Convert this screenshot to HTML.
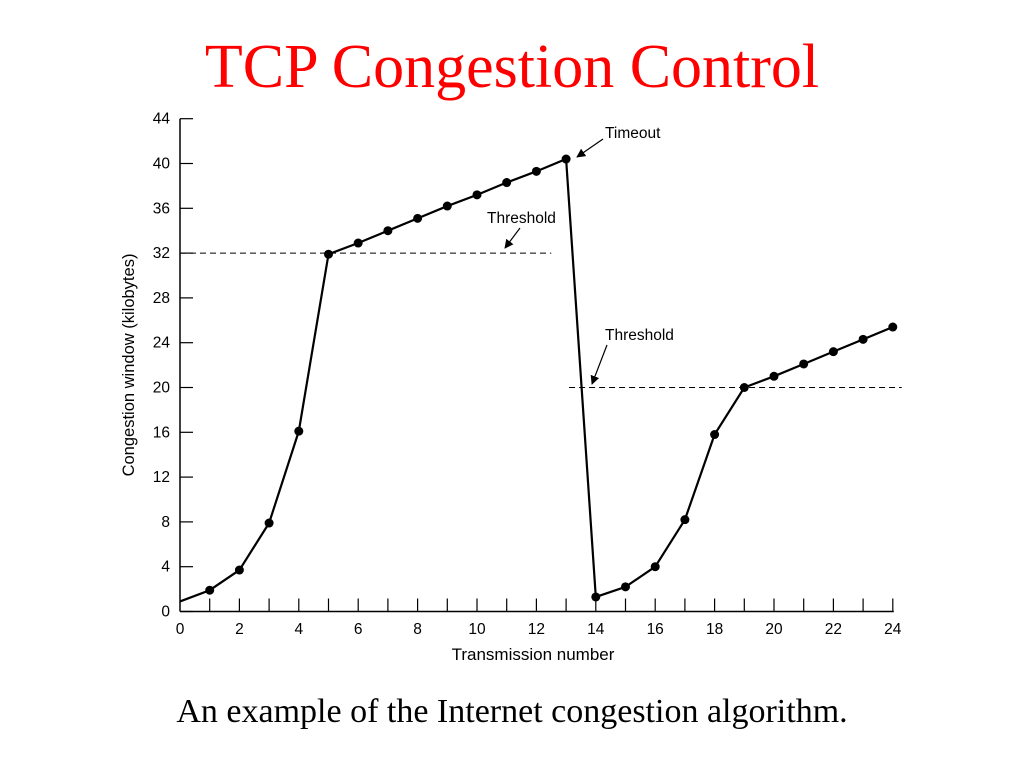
<!DOCTYPE html>
<html><head><meta charset="utf-8"><style>
body{margin:0;background:#fff;width:1024px;height:768px;overflow:hidden}
svg text{font-family:"Liberation Sans",sans-serif}
</style></head><body>
<svg width="1024" height="768">
<defs><marker id="ah" viewBox="0 0 10 10" refX="9" refY="5" markerWidth="9" markerHeight="9" orient="auto" markerUnits="userSpaceOnUse"><path d="M0,0 L10,5 L0,10 z" fill="#000"/></marker></defs>
<text x="512" y="87" text-anchor="middle" fill="#f00" font-size="62" style="font-family:'Liberation Serif',serif">TCP Congestion Control</text>
<text x="512" y="722" text-anchor="middle" fill="#000" font-size="34" style="font-family:'Liberation Serif',serif">An example of the Internet congestion algorithm.</text>
<g id="axes"></g><g id="marks"></g>
<text x="533" y="660" text-anchor="middle" font-size="17">Transmission number</text>
<text transform="translate(134,365) rotate(-90)" text-anchor="middle" font-size="16.5">Congestion window (kilobytes)</text>
<g stroke="#000" stroke-width="1.2" fill="none">
<line x1="603" y1="139" x2="577" y2="157" marker-end="url(#ah)"/>
<line x1="520" y1="228" x2="505" y2="248" marker-end="url(#ah)"/>
<line x1="607" y1="345" x2="592" y2="384" marker-end="url(#ah)"/>
</g>
<text x="605" y="138" font-size="15.5">Timeout</text>
<text x="487" y="223" font-size="15.5">Threshold</text>
<text x="605" y="340" font-size="15.5">Threshold</text>
</svg>
<script>
const xs=[0,1,2,3,4,5,6,7,8,9,10,11,12,13,14,15,16,17,18,19,20,21,22,23,24];
const cwnd=[0.9,1.9,3.7,7.9,16.1,31.9,32.9,34,35.1,36.2,37.2,38.3,39.3,40.4,1.3,2.2,4,8.2,15.8,20,21,22.1,23.2,24.3,25.4];
const yTicks=[0,4,8,12,16,20,24,28,32,36,40,44];
const xLabels=[0,2,4,6,8,10,12,14,16,18,20,22,24];
const thresholds=[[0,12.5,32],[13.1,24.3,20]];
const X=v=>180+v*29.7, Y=v=>611.5-v*11.2;
const NS="http://www.w3.org/2000/svg";
function mk(p,t,a){const e=document.createElementNS(NS,t);for(const k in a)e.setAttribute(k,a[k]);p.appendChild(e);return e;}
const ax=document.getElementById('axes'),mg=document.getElementById('marks');
let l=mk(ax,'line',{x1:X(0),y1:Y(0),x2:X(24)+1,y2:Y(0),stroke:'#000','stroke-width':1.5});

l=mk(ax,'line',{x1:X(0),y1:Y(0),x2:X(0),y2:Y(44),stroke:'#000','stroke-width':1.5});

yTicks.forEach(v=>{const t=mk(ax,'line',{x1:X(0),y1:Y(v),x2:X(0)+13,y2:Y(v),stroke:'#000','stroke-width':1.2});

const tx=mk(ax,'text',{x:170,y:Y(v)+5,'text-anchor':'end','font-size':15.5});tx.textContent=v;
});
xs.forEach(v=>{if(v===0)return;const t=mk(ax,'line',{x1:X(v),y1:Y(0),x2:X(v),y2:Y(0)-13,stroke:'#000','stroke-width':1.2});
});
xLabels.forEach(v=>{const tx=mk(ax,'text',{x:X(v),y:634,'text-anchor':'middle','font-size':15.5});tx.textContent=v;
});
thresholds.forEach(t=>{const d=mk(mg,'line',{x1:X(t[0]),x2:X(t[1]),y1:Y(t[2]),y2:Y(t[2]),stroke:'#000','stroke-width':1,'stroke-dasharray':'6,4'});
});
const pl=mk(mg,'polyline',{points:xs.map((x,i)=>X(x)+','+Y(cwnd[i])).join(' '),fill:'none',stroke:'#000','stroke-width':2.2});

xs.forEach((x,i)=>{if(i===0)return;const c=mk(mg,'circle',{cx:X(x),cy:Y(cwnd[i]),r:4.5,fill:'#000'});
});
</script>
</body></html>
